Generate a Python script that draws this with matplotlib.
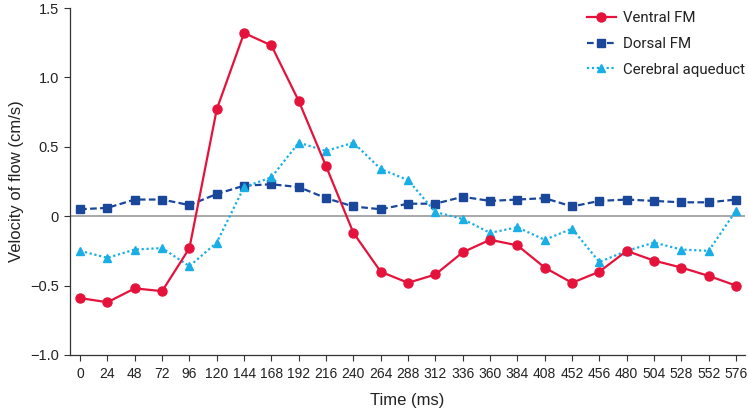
import matplotlib
matplotlib.use("Agg")
import matplotlib.pyplot as plt

time_labels = ["0", "24", "48", "72", "96", "120", "144", "168", "192", "216", "240", "264",
               "288", "312", "336", "360", "384", "408", "452", "456", "480", "504", "528",
               "552", "576"]
ventral_fm = [-0.59, -0.62, -0.52, -0.54, -0.23, 0.77, 1.32, 1.23, 0.83, 0.36, -0.12, -0.40,
              -0.48, -0.42, -0.26, -0.17, -0.21, -0.37, -0.48, -0.40, -0.25, -0.32, -0.37,
              -0.43, -0.50]
dorsal_fm = [0.05, 0.06, 0.12, 0.12, 0.08, 0.16, 0.22, 0.23, 0.21, 0.13, 0.07, 0.05,
             0.09, 0.09, 0.14, 0.11, 0.12, 0.13, 0.07, 0.11, 0.12, 0.11, 0.10, 0.10, 0.12]
cerebral_aqueduct = [-0.25, -0.30, -0.24, -0.23, -0.36, -0.19, 0.21, 0.28, 0.53, 0.47, 0.53,
                     0.34, 0.26, 0.03, -0.02, -0.12, -0.08, -0.17, -0.09, -0.33, -0.25,
                     -0.19, -0.24, -0.25, 0.04]
y_ticks = [1.5, 1.0, 0.5, 0, -0.5, -1.0]
y_tick_labels = ["1.5", "1.0", "0.5", "0", "\u22120.5", "\u22121.0"]

tick_font = ["Liberation Sans", "DejaVu Sans"]
plt.rcParams['font.family'] = ['Roboto', 'DejaVu Sans']

fig = plt.figure(figsize=(7.48, 4.15), dpi=100)
ax = fig.add_axes([0.0936, 0.1446, 0.9064 - 0.004, 0.9807 - 0.1446])

x = list(range(len(time_labels)))
ax.axhline(0, color="#999999", lw=1.2, zorder=1)
ax.plot(x, ventral_fm, color="#E5133C", lw=1.6, marker="o", ms=6.5, label="Ventral FM", zorder=3)
ax.plot(x, dorsal_fm, color="#1A479A", lw=1.6, ls=(0, (3, 1.5)), marker="s", ms=5.2,
        label="Dorsal FM", zorder=2)
ax.plot(x, cerebral_aqueduct, color="#1AAEE6", lw=1.6, ls=(0, (1, 1.2)), marker="^", ms=6,
        label="Cerebral aqueduct", zorder=2)

ax.set_xlim(-0.37, 24.33)
ax.set_ylim(-1.0, 1.5)
ax.set_xticks(x)
ax.set_xticklabels(time_labels, fontfamily=tick_font, fontsize=10, color="#222222")
ax.set_yticks(y_ticks)
ax.set_yticklabels(y_tick_labels, fontfamily=tick_font, fontsize=10.5, color="#222222")
ax.tick_params(axis="both", direction="out", length=4.5, width=0.8, color="#333333")
ax.tick_params(axis="x", pad=4)

for s in ["top", "right"]:
    ax.spines[s].set_visible(False)
for s in ["left", "bottom"]:
    ax.spines[s].set_color("#333333")
    ax.spines[s].set_linewidth(0.9)

ax.set_xlabel("Time (ms)", fontfamily=tick_font, fontsize=12, color="#222222", labelpad=9)
ax.set_ylabel("Velocity of flow (cm/s)", fontfamily=tick_font, fontsize=12, color="#222222",
              labelpad=4)

leg = ax.legend(loc="upper right", bbox_to_anchor=(1.02, 1.03), frameon=False, fontsize=10.8,
                handlelength=1.9, labelspacing=0.78, handletextpad=0.5)
for t in leg.get_texts():
    t.set_color("#222222")

fig.savefig("out.png", dpi=100)
